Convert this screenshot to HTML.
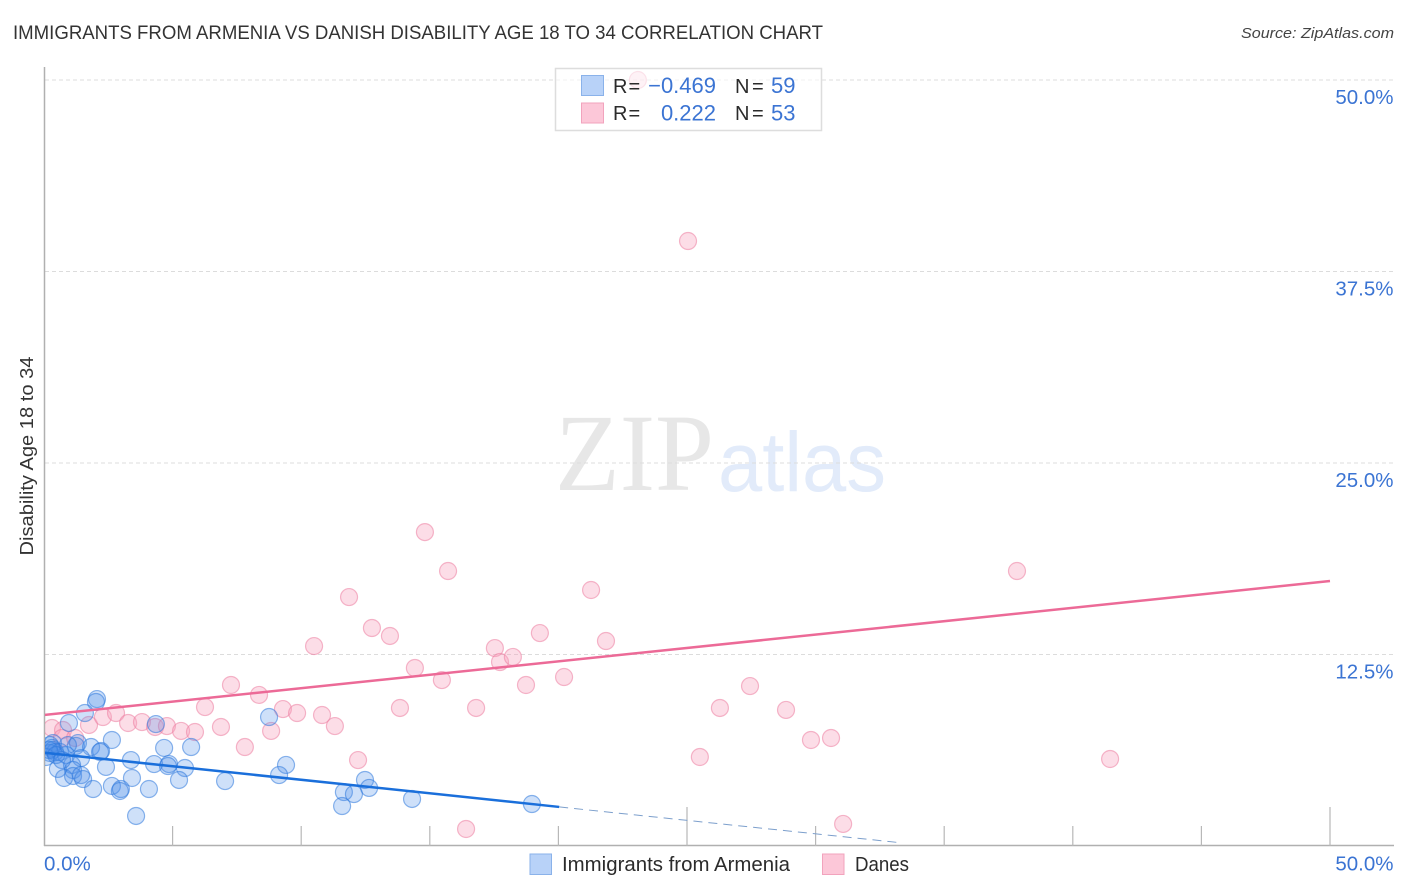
<!DOCTYPE html>
<html lang="en">
<head>
<meta charset="utf-8">
<title>Immigrants from Armenia vs Danish Disability Age 18 to 34 Correlation Chart</title>
<style>
html,body{margin:0;padding:0;background:#fff;width:1406px;height:892px;overflow:hidden}
svg{display:block;font-family:"Liberation Sans",sans-serif}
</style>
</head>
<body>
<svg id="chart" width="1406" height="892" viewBox="0 0 1406 892">
  <defs><clipPath id="plot-clip"><rect x="45" y="60" width="1349" height="786"></rect></clipPath></defs>
  <rect x="0" y="0" width="1406" height="892" fill="#fff"></rect>
  <text x="13" y="39" font-size="19" fill="#333" textLength="810" lengthAdjust="spacingAndGlyphs">IMMIGRANTS FROM ARMENIA VS DANISH DISABILITY AGE 18 TO 34 CORRELATION CHART</text>
  <text x="1394" y="38" font-size="15" font-style="italic" fill="#444" text-anchor="end" textLength="153" lengthAdjust="spacingAndGlyphs">Source: ZipAtlas.com</text>
  <g>
    <text x="555" y="490" font-family="'Liberation Serif',serif" font-size="110" fill="#e7e7e7" textLength="159" lengthAdjust="spacingAndGlyphs">ZIP</text>
    <text x="718" y="491" font-size="84" fill="#e2ebfa" textLength="168" lengthAdjust="spacingAndGlyphs">atlas</text>
  </g>
  <g id="grid"></g>
  <g id="axes"></g>
  <g id="marks" clip-path="url(#plot-clip)"></g>
  <text x="33" y="456" font-size="18.5" fill="#333" text-anchor="middle" transform="rotate(-90 33 456)" textLength="199" lengthAdjust="spacingAndGlyphs">Disability Age 18 to 34</text>

  <g>
    <rect x="555.5" y="68.5" width="266" height="62" fill="#fff" fill-opacity="0.62" stroke="#ddd" stroke-width="1.5"></rect>
    <rect x="581.5" y="75.5" width="22" height="20" fill="#b8d2f8" stroke="#8ab2ea" stroke-width="1"></rect>
    <rect x="581.5" y="103" width="22" height="20" fill="#fcc7d8" stroke="#f2a3bd" stroke-width="1"></rect>
    <g font-size="20" fill="#2b2b2b">
      <text x="613" y="93" word-spacing="-4.5">R =</text>
      <text x="613" y="120" word-spacing="-4.5">R =</text>
      <text x="735" y="93" word-spacing="-3">N =</text>
      <text x="735" y="120" word-spacing="-3">N =</text>
    </g>
    <g font-size="22" fill="#3b74d3">
      <text x="716" y="93" text-anchor="end">−0.469</text>
      <text x="716" y="120.500" text-anchor="end">0.222</text>
      <text x="771" y="93">59</text>
      <text x="771" y="120.500">53</text>
    </g>
  </g>

  <g>
    <rect x="530" y="854" width="21.500" height="20.500" fill="#b8d2f8" stroke="#8ab2ea" stroke-width="1"></rect>
    <text x="562" y="871" font-size="20" fill="#2b2b2b" textLength="228" lengthAdjust="spacingAndGlyphs">Immigrants from Armenia</text>
    <rect x="822.500" y="854" width="21.500" height="20.500" fill="#fcc7d8" stroke="#f2a3bd" stroke-width="1"></rect>
    <text x="855" y="871" font-size="20" fill="#2b2b2b" textLength="54" lengthAdjust="spacingAndGlyphs">Danes</text>
  </g>
</svg>
<script>
const armeniaX = [2.06,2.02,1.59,0.97,2.64,1.32,1.24,1.83,2.22,2.18,0.35,0.23,0.31,0.35,0.43,0.23,0.62,0.86,1.44,2.41,0.54,1.09,1.13,0.78,1.13,1.44,1.52,1.91,2.64,2.99,2.95,4.35,4.67,5.72,3.38,4.28,4.86,4.82,5.48,3.42,4.08,5.25,7.04,8.75,9.41,9.14,3.58,12.48,12.64,11.66,12.05,11.59,14.31,18.97,0.08,0.19,0.47,0.70,0.93];
const armeniaY = [9.59,9.40,8.68,8.03,6.92,6.72,6.53,6.46,6.20,6.14,6.72,6.59,6.40,6.27,6.14,6.07,6.14,5.94,5.74,5.16,5.03,5.29,4.96,4.44,4.57,4.63,4.37,3.72,3.92,3.72,3.59,7.96,6.40,6.46,5.61,5.35,5.35,5.22,5.09,4.44,3.72,4.31,4.24,8.42,5.29,4.63,1.96,4.31,3.79,3.52,3.39,2.61,3.07,2.74,5.81,6.27,5.94,5.61,6.59];
const danesX = [0.31,0.74,1.75,2.29,2.80,3.27,3.81,4.32,4.78,5.33,5.87,6.26,6.88,7.27,7.81,8.36,8.83,9.29,9.84,10.81,0.70,1.21,11.31,10.50,11.86,12.75,13.45,14.81,15.71,14.42,13.84,12.21,15.47,16.80,16.41,17.53,17.73,18.23,18.74,19.28,20.22,21.27,21.85,23.09,25.04,26.28,25.50,27.45,28.85,29.82,30.60,31.07,37.83,41.45];
const danesY = [7.70,7.57,7.90,8.42,8.68,8.03,8.09,7.77,7.83,7.51,7.44,9.07,7.77,10.51,6.46,9.86,7.51,8.94,8.68,8.55,7.05,7.05,7.83,13.05,16.25,14.23,13.71,20.49,17.95,11.62,9.01,5.61,10.83,9.01,1.11,12.92,12.01,12.34,10.51,13.90,11.03,16.71,13.38,50.00,39.49,9.01,5.81,10.44,8.88,6.92,7.05,1.44,17.95,5.68];
const armeniaTrendX = [0, 20.03];
const armeniaTrendY = [6.09, 2.55];
const armeniaExtensionX = [20.03, 33.37];
const armeniaExtensionY = [2.55, 0.2];
const danesTrendX = [0, 50];
const danesTrendY = [8.55, 17.30];
const xTickValues = [5,10,15,20,25,30,35,40,45,50];
const xMajorTicks = [25,50];
const xTickLabelValues = [0,50];
const xTickLabels = ['0.0%','50.0%'];
const yTickValues = [12.5,25,37.5,50];
const yTickLabels = ['12.5%','25.0%','37.5%','50.0%'];

const NS = 'http://www.w3.org/2000/svg';
const xScale = v => 44 + v * 25.72;
const yScale = v => 846 - v * 15.32;
const gridLayer = document.getElementById('grid');
const axesLayer = document.getElementById('axes');
const marksLayer = document.getElementById('marks');

function make(tag, attrs, parent) {
  const el = document.createElementNS(NS, tag);
  for (const k in attrs) el.setAttribute(k, attrs[k]);
  parent.appendChild(el);
  return el;
}

yTickValues.forEach((v, i) => {
  const line = make('line', {x1: 45, x2: 1393, y1: yScale(v), y2: yScale(v), stroke: '#dcdcdc', 'stroke-width': 1, 'stroke-dasharray': '4 3'}, gridLayer);
  
  
  const label = make('text', {x: 1393.5, y: yScale(v) + 24, 'font-size': 20.5, fill: '#3b74d3', 'text-anchor': 'end'}, axesLayer);
  label.textContent = yTickLabels[i];
  
  
});

const yAxisLine = make('line', {x1: 44.5, x2: 44.5, y1: 67, y2: 846, stroke: '#b0b0b0', 'stroke-width': 1.5}, axesLayer);


const xAxisLine = make('line', {x1: 44, x2: 1394, y1: 845.5, y2: 845.5, stroke: '#b0b0b0', 'stroke-width': 1.5}, axesLayer);



xTickValues.forEach(v => {
  const top = xMajorTicks.includes(v) ? 807 : 826;
  const tick = make('line', {x1: xScale(v), x2: xScale(v), y1: top, y2: 846, stroke: '#b8b8b8', 'stroke-width': 1.2}, axesLayer);
  
  
});

xTickLabelValues.forEach((v, i) => {
  const label = make('text', {x: i === 0 ? xScale(v) : 1393.5, y: 870.5, 'font-size': 20.5, fill: '#3b74d3', 'text-anchor': i === 0 ? 'start' : 'end'}, axesLayer);
  label.textContent = xTickLabels[i];
  
  
});

danesX.forEach((v, i) => {
  const c = make('circle', {cx: xScale(v), cy: yScale(danesY[i]), r: 8.5, fill: 'rgba(247,160,188,0.36)', stroke: 'rgba(236,125,160,0.55)', 'stroke-width': 1.2}, marksLayer);
  
  
});

armeniaX.forEach((v, i) => {
  const c = make('circle', {cx: xScale(v), cy: yScale(armeniaY[i]), r: 8.5, fill: 'rgba(80,145,235,0.28)', stroke: 'rgba(45,120,220,0.55)', 'stroke-width': 1.2}, marksLayer);
  
  
});

const armeniaExtension = make('line', {x1: xScale(armeniaExtensionX[0]), y1: yScale(armeniaExtensionY[0]), x2: xScale(armeniaExtensionX[1]), y2: yScale(armeniaExtensionY[1]), stroke: '#7c9fcc', 'stroke-width': 1, 'stroke-dasharray': '9 6'}, marksLayer);


const armeniaTrend = make('line', {x1: xScale(armeniaTrendX[0]), y1: yScale(armeniaTrendY[0]), x2: xScale(armeniaTrendX[1]), y2: yScale(armeniaTrendY[1]), stroke: '#1a6fdb', 'stroke-width': 2.5}, marksLayer);


const danesTrend = make('line', {x1: xScale(danesTrendX[0]), y1: yScale(danesTrendY[0]), x2: xScale(danesTrendX[1]), y2: yScale(danesTrendY[1]), stroke: '#ec6a97', 'stroke-width': 2.5}, marksLayer);


</script>
</body>
</html>
